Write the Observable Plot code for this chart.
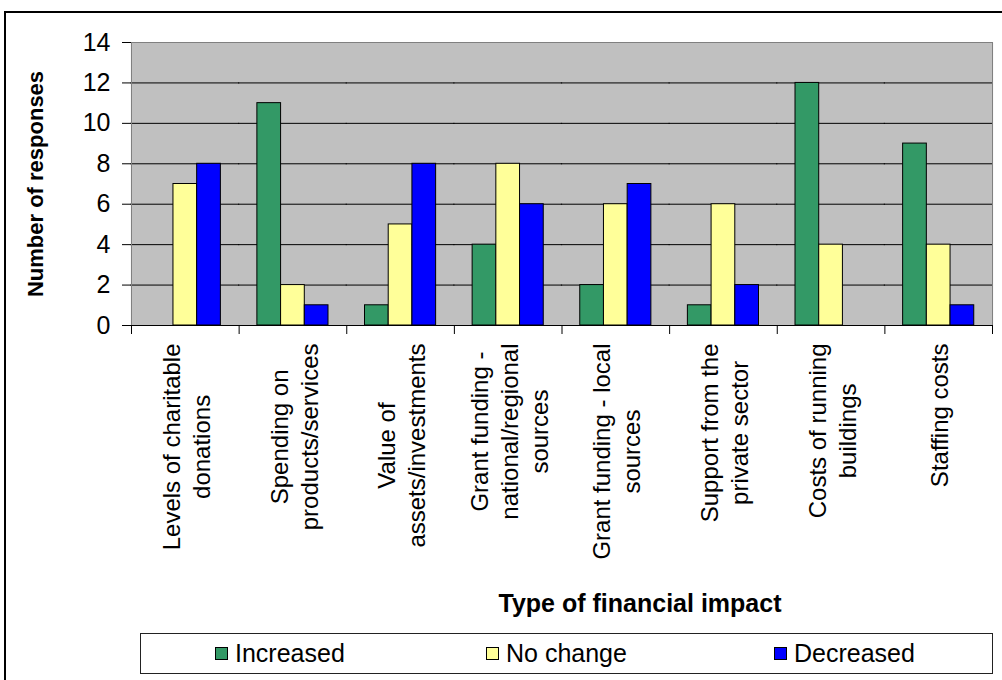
<!DOCTYPE html>
<html><head><meta charset="utf-8">
<script src="https://cdn.jsdelivr.net/npm/d3@7"></script>
<script src="https://cdn.jsdelivr.net/npm/@observablehq/plot@0.6"></script>
<style>
html,body{margin:0;padding:0;background:#fff;overflow:hidden;}
#wrap{position:relative;width:1002px;height:680px;overflow:hidden;font-family:"Liberation Sans",Arial,sans-serif;color:#000;}
#outer{position:absolute;left:4px;top:11px;width:1100px;height:800px;border:2px solid #000;box-sizing:border-box;}
#chart{position:absolute;left:0;top:0;}
#xtitle{position:absolute;left:340px;width:600px;top:591px;height:25px;line-height:25px;text-align:center;font-size:25px;font-weight:bold;}
#legend{position:absolute;left:140px;top:633px;width:853px;height:41px;border:1px solid #222;box-sizing:border-box;background:#fff;}
.item{position:absolute;top:0;height:39px;display:flex;align-items:center;font-size:25px;white-space:nowrap;}
.sw{width:11px;height:11px;border:1px solid #000;margin-right:7px;flex:none;}
</style></head>
<body><div id="wrap"><div id="outer"></div><div id="chart"></div><div id="xtitle"></div><div id="legend"></div></div>
<script>
const categories = [
  "Levels of charitable\ndonations",
  "Spending on\nproducts/services",
  "Value of\nassets/investments",
  "Grant funding -\nnational/regional\nsources",
  "Grant funding - local\nsources",
  "Support from the\nprivate sector",
  "Costs of running\nbuildings",
  "Staffing costs"
];
const increased = [0, 11, 1, 4, 2, 1, 12, 9];
const noChange  = [7, 2, 5, 8, 6, 6, 4, 4];
const decreased = [8, 1, 8, 6, 7, 2, 0, 1];
const seriesNames = ["Increased", "No change", "Decreased"];
const seriesColors = ["#339966", "#FFFF99", "#0000FF"];
const yTicks = [0, 2, 4, 6, 8, 10, 12, 14];
const yTitle = "Number of responses";
const xTitle = "Type of financial impact";

const rows = [];
categories.forEach((c, i) => {
  [increased, noChange, decreased].forEach((arr, s) => {
    rows.push({category: c, series: seriesNames[s], value: arr[i]});
  });
});

const W = 1002, H = 620, mL = 131, mR = 10, mT = 42, mB = H - 325;
const bw = (W - mL - mR) / categories.length;
const font = '"Liberation Sans", Arial, sans-serif';
const ctx = document.createElement("canvas").getContext("2d");
ctx.font = "24px " + font;

const labelMarks = categories.map(c => {
  const maxW = d3.max(c.split("\n"), l => ctx.measureText(l).width);
  return Plot.text([c], {
    fx: d => d, text: d => d, frameAnchor: "bottom", rotate: -90,
    textAnchor: "middle", lineAnchor: "middle", lineHeight: 1.25,
    fontSize: 24, dy: 18 + maxW / 2, fill: "#000"
  });
});

const chart = Plot.plot({
  width: W, height: H,
  marginLeft: mL, marginRight: mR, marginTop: mT, marginBottom: mB,
  style: {fontFamily: font, background: "transparent", color: "#000"},
  fx: {domain: categories, paddingInner: 0, paddingOuter: 0, round: false},
  x: {domain: seriesNames, paddingInner: 0, paddingOuter: 0.77, round: false, axis: null},
  y: {domain: [0, 14]},
  color: {domain: seriesNames, range: seriesColors},
  marks: [
    Plot.frame({fill: "#C0C0C0", stroke: "none", insetLeft: -0.6, insetRight: -0.6}),
    Plot.ruleY(yTicks.filter(v => v > 0 && v < 14), {stroke: "#000", strokeWidth: 1, insetLeft: -0.6, insetRight: -0.6}),
    Plot.ruleY([14], {stroke: "#808080", strokeWidth: 1, insetLeft: -0.6, insetRight: -0.6}),
    Plot.gridFx({ticks: [categories[0]], dx: -bw / 2, stroke: "#808080", strokeOpacity: 1}),
    Plot.gridFx({ticks: [categories[categories.length - 1]], dx: bw / 2, stroke: "#808080", strokeOpacity: 1}),
    Plot.barY(rows.filter(d => d.value > 0), {fx: "category", x: "series", y: "value", fill: "series", stroke: "#000", strokeWidth: 1}),
    Plot.ruleY([0], {stroke: "#000", strokeWidth: 1, insetLeft: -0.6, insetRight: -0.6}),
    Plot.axisY({ticks: yTicks, tickSize: 9, tickPadding: 12, fontSize: 25, label: null, tickFormat: d => String(d), stroke: "#000"}),
    Plot.axisY({ticks: [], label: yTitle, labelArrow: false, labelAnchor: "center", labelOffset: 104, fontSize: 22, fontWeight: "bold"}),
    Plot.axisFx({anchor: "bottom", tickSize: 9, tickFormat: () => "", dx: -bw / 2, label: null, stroke: "#000"}),
    Plot.axisFx({anchor: "bottom", ticks: [categories[categories.length - 1]], tickSize: 9, tickFormat: () => "", dx: bw / 2, label: null, stroke: "#000"}),
    ...labelMarks
  ]
});
document.getElementById("chart").appendChild(chart);
document.getElementById("xtitle").textContent = xTitle;

const legend = document.getElementById("legend");
const legendLeft = [74, 345, 633];
seriesNames.forEach((s, i) => {
  const it = document.createElement("div");
  it.className = "item";
  it.style.left = legendLeft[i] + "px";
  const sw = document.createElement("div");
  sw.className = "sw";
  sw.style.background = seriesColors[i];
  const tx = document.createElement("span");
  tx.textContent = s;
  it.appendChild(sw); it.appendChild(tx);
  legend.appendChild(it);
});
</script>
</body></html>
